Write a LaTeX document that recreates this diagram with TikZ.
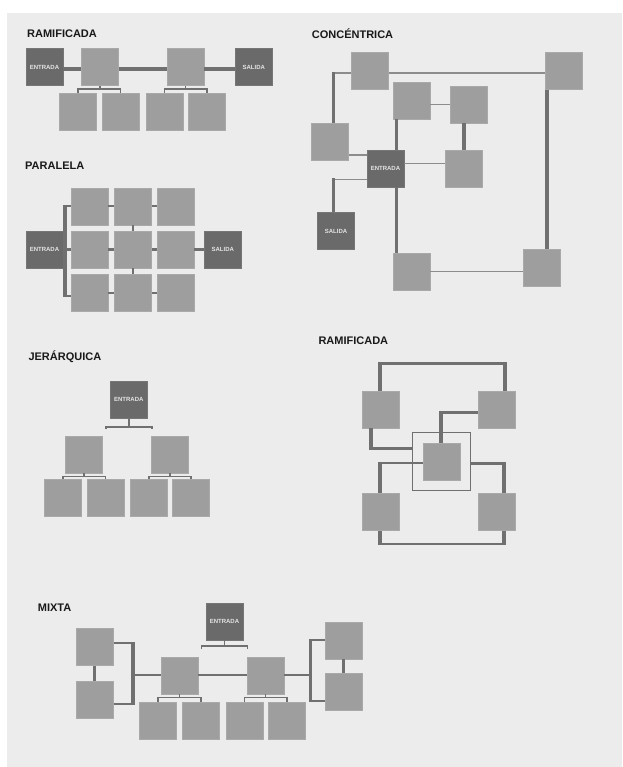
\documentclass[tikz,border=0pt]{standalone}
\usepackage{fontspec}
\setmainfont{Liberation Sans}
\usetikzlibrary{calc}
\definecolor{bg}{HTML}{ECECEC}
\definecolor{lb}{HTML}{9E9E9E}
\definecolor{lbe}{HTML}{A9A9A9}
\definecolor{db}{HTML}{6A6A6A}
\definecolor{ln}{HTML}{707070}
\definecolor{lnt}{HTML}{8C8C8C}
\newcommand\mybrk[3]{\draw[brk] (#1.south) -- ++(0,3.3) coordinate (#1-b); \draw[brk] (#2.north) |- (#1-b) -| (#3.north);}
\newcommand\mydbrk[3]{\draw[brk] (#1.south) -- ++(0,#2) coordinate (#1-b); \draw[brk] ([xshift=-23pt,yshift=-#3pt]#1-b) -- ([xshift=-23pt]#1-b) -- ([xshift=23pt]#1-b) -- ([xshift=23pt,yshift=-#3pt]#1-b);}
\begin{document}
\begin{tikzpicture}[x=1pt,y=-1pt,
 lbox/.style={fill=lb,draw=lbe,line width=0.5pt,minimum size=37pt,inner sep=0pt,anchor=north west},
 dbox/.style={fill=db,draw=db!92!white,line width=0.5pt,minimum size=37pt,inner sep=0pt,anchor=north west,text=white!90!black,font=\bfseries\fontsize{6}{7}\selectfont},
 ttl/.style={anchor=base west,inner sep=0pt,font=\bfseries\fontsize{11}{13}\selectfont,text=black!90},
 cthick/.style={draw=ln,line width=3.3pt},
 cmid/.style={draw=ln,line width=2pt},
 cthin/.style={draw=lnt,line width=1.5pt},
 cv/.style={draw=ln,line width=4pt},
 ch/.style={draw=ln,line width=2.4pt},
 brk/.style={draw=ln,line width=1.8pt}]
\fill[white] (0,0) rectangle (622,767);
\fill[bg] (7,13) rectangle (622,767);
\useasboundingbox (0,0) rectangle (622,767);

% ---------- RAMIFICADA (top) ----------
\node[ttl] (t1) at (27,37.3) {RAMIFICADA};
\node[dbox] (e1) at (25.7,48.3) {ENTRADA};
\node[lbox] (r1a) at (81,48.3) {};
\node[lbox] (r1b) at (166.7,48.3) {};
\node[dbox] (s1) at (235,48.3) {SALIDA};
\node[lbox] (c1) at (59.3,92.7) {};
\node[lbox] (c2) at (101.7,92.7) {};
\node[lbox] (c3) at (145.7,92.7) {};
\node[lbox] (c4) at (188.3,92.7) {};
\draw[cthick] ([yshift=-2pt]e1.east) -- ([yshift=-2pt]r1a.west)
  ([yshift=-2pt]r1a.east) -- ([yshift=-2pt]r1b.west)
  ([yshift=-2pt]r1b.east) -- ([yshift=-2pt]s1.west);
\mybrk{r1a}{c1}{c2}
\mybrk{r1b}{c3}{c4}

% ---------- PARALELA ----------
\node[ttl] (t2) at (25,170) {PARALELA};
\node[lbox] (p11) at (70.7,187.7) {};
\node[lbox] (p12) at (114.3,187.7) {};
\node[lbox] (p13) at (156.7,187.7) {};
\node[lbox] (p21) at (70.7,230.7) {};
\node[lbox] (p22) at (114.3,230.7) {};
\node[lbox] (p23) at (156.7,230.7) {};
\node[lbox] (p31) at (70.7,274) {};
\node[lbox] (p32) at (114.3,274) {};
\node[lbox] (p33) at (156.7,274) {};
\node[dbox] (e2) at (25.7,230.7) {ENTRADA};
\node[dbox] (s2) at (204,230.7) {SALIDA};
\path (p11.west) -- ++(-5.7,0) coordinate (bt);
\path ([yshift=-3pt]p31.west) -- ++(-5.7,0) coordinate (bb);
\draw[cmid] (bt) -- (p11.west);
\draw[cmid] (bb) -- ([yshift=-3pt]p31.west);
\draw[cthick] ([yshift=1pt]bt) -- ([yshift=-1pt]bb);
\draw[cthick] (e2.east) -- (p21.west);
\draw[cmid] (p11.east) -- (p12.west) (p12.east) -- (p13.west);
\draw[cthick] (p21.east) -- (p22.west) (p22.east) -- (p23.west) (p23.east) -- (s2.west);
\draw[cmid] (p31.east) -- (p32.west) (p32.east) -- (p33.west);
\draw[cmid] (p12.south) -- (p22.north) (p22.south) -- (p32.north);

% ---------- CONCENTRICA ----------
\node[ttl] (t3) at (311.7,38.3) {CONCÉNTRICA};
\node[lbox] (ca) at (351,52.3) {};
\node[lbox] (cb) at (545,52.3) {};
\node[lbox] (cc) at (392.7,81.7) {};
\node[lbox] (cd) at (450,86) {};
\node[lbox] (ce) at (311,122.7) {};
\node[dbox] (e3) at (366.7,150) {ENTRADA};
\node[lbox] (cf) at (445.3,150) {};
\node[dbox] (s3) at (317.3,212.3) {SALIDA};
\node[lbox] (cg) at (392.7,252.7) {};
\node[lbox] (ch) at (522.7,249.3) {};
\draw[cthin] ([yshift=-2pt]ca.east) -- ([yshift=-2pt]ca.east -| cb.west);
\draw[cthin] ([yshift=-2pt]ca.west) -- ++(-17.7,0) coordinate (k1);
\draw[cthick] ([yshift=1pt]k1) -- (k1 |- ce.north);
\draw[cthin] ([yshift=-5pt]e3.north west) -- ([yshift=-5pt]e3.north west -| ce.east);
\draw[cthin] ([yshift=-29.3pt]e3.north west) -- ++(-33.4,0) coordinate (k2);
\draw[cthick] ([yshift=1pt]k2) -- (k2 |- s3.north);
\draw[cthick] ([xshift=4pt]cc.south west) -- ([xshift=4pt]cc.south west |- e3.north);
\draw[cthin] (cd.west) -- (cd.west -| cc.east);
\draw[cthick] (cf.north) -- (cf.north |- cd.south);
\draw[cthin] ([yshift=5pt]cf.west) -- ([yshift=5pt]cf.west -| e3.east);
\draw[cthick] ([xshift=4pt]cg.north west) -- ([xshift=4pt]cg.north west |- e3.south);
\draw[cthin] (cg.east) -- (cg.east -| ch.west);
\draw[cthick] ([xshift=2pt]cb.south west) -- ([xshift=2pt]cb.south west |- ch.north);

% ---------- JERARQUICA ----------
\node[ttl] (t4) at (28.3,360) {JERÁRQUICA};
\node[dbox] (j0) at (110,381) {ENTRADA};
\node[lbox] (jl) at (65,435.7) {};
\node[lbox] (jr) at (151,435.7) {};
\node[lbox] (j1) at (44,479.3) {};
\node[lbox] (j2) at (86.7,479.3) {};
\node[lbox] (j3) at (130,479.3) {};
\node[lbox] (j4) at (172.3,479.3) {};
\mydbrk{j0}{8.2}{2.6}
\mybrk{jl}{j1}{j2}
\mybrk{jr}{j3}{j4}

% ---------- RAMIFICADA (right) ----------
\node[ttl] (t5) at (318.3,344.3) {RAMIFICADA};
\node[lbox] (tl) at (361.7,390.7) {};
\node[lbox] (tr) at (478.3,390.7) {};
\node[lbox] (bl) at (361.7,493.3) {};
\node[lbox] (br) at (478.3,493.3) {};
\node[lbox] (cx) at (422.7,442.7) {};
\node[draw=ln,line width=0.8pt,minimum size=58.5pt,inner sep=0pt] (fr) at (cx.center) {};
% top loop
\path (tl.north) -- ++(0,-27.4) coordinate (ka);
\path ([xshift=8pt]tr.north) coordinate (kb0);
\draw[ch] (ka) -- (ka -| kb0);
\draw[cv] (tl.north) -- ([yshift=1.2pt]ka);
\draw[cv] (kb0) -- ([yshift=1.2pt]ka -| kb0);
% TL to frame
\path ([xshift=9pt]tl.south west) coordinate (kc0);
\path ([yshift=13pt]fr.west) coordinate (kd);
\draw[ch] (kc0 |- kd) -- (kd);
\draw[cv] (kc0) -- ([yshift=-1.2pt]kc0 |- kd);
% TR to centre
\path ([yshift=-3pt]tr.west) coordinate (ke);
\draw[ch] (ke) -- (ke -| cx.north);
\draw[cv] ([yshift=1.2pt]ke -| cx.north) -- (cx.north);
% centre to BL
\path ([yshift=-1.5pt]cx.west) coordinate (kf);
\draw[ch] (kf) -- (kf -| bl.north);
\draw[cv] ([yshift=1.2pt]kf -| bl.north) -- (bl.north);
% frame to BR
\path ([yshift=-2pt]fr.east) coordinate (kg);
\path ([xshift=-12pt]br.north east) coordinate (kh);
\draw[ch] (kg) -- (kg -| kh);
\draw[cv] ([yshift=1.2pt]kg -| kh) -- (kh);
% bottom loop
\path (bl.south) -- ++(0,13.3) coordinate (ki);
\path ([xshift=-12pt]br.south east) coordinate (kj);
\draw[ch] (ki) -- (ki -| kj);
\draw[cv] (bl.south) -- ([yshift=-1.2pt]ki);
\draw[cv] (kj) -- ([yshift=-1.2pt]ki -| kj);

% ---------- MIXTA ----------
\node[ttl] (t6) at (37.7,611.7) {MIXTA};
\node[dbox] (m0) at (205.7,602.7) {ENTRADA};
\mydbrk{m0}{5.8}{3.3}
\node[lbox] (lt) at (76,628.3) {};
\node[lbox] (lb) at (76,680.7) {};
\draw[cthick] (lt.south) -- (lb.north);
\node[lbox] (mm1) at (160.7,656.7) {};
\node[lbox] (mm2) at (246.7,656.7) {};
\node[lbox] (rt) at (325,621.7) {};
\node[lbox] (rb) at (325,673.3) {};
\draw[cthick] (rt.south) -- (rb.north);
\draw[cmid] ([yshift=4.3pt]lt.east) -- ++(19.6,0) coordinate (k3);
\draw[cmid] ([yshift=-5pt]lb.east) -- ++(19.6,0) coordinate (k4);
\draw[cthick] ([yshift=1pt]k3) -- ([yshift=-1pt]k4);
\draw[cmid] (mm1.west) -- (mm1.west -| k3);
\draw[cmid] (mm1.east) -- (mm2.west);
\draw[cmid] (mm2.east) -- ++(26.3,0) coordinate (k5);
\draw[cmid] (rt.west) -- (rt.west -| k5);
\draw[cmid] ([yshift=-8.7pt]rb.west) -- ([yshift=-8.7pt]rb.west -| k5);
\draw[cthick] ([yshift=1pt]rt.west -| k5) -- ([yshift=-9.7pt]rb.west -| k5);
\node[lbox] (mc1) at (139.3,701.7) {};
\node[lbox] (mc2) at (182.3,701.7) {};
\node[lbox] (mc3) at (225.7,701.7) {};
\node[lbox] (mc4) at (268.3,701.7) {};
\mybrk{mm1}{mc1}{mc2}
\mybrk{mm2}{mc3}{mc4}
\end{tikzpicture}
\end{document}
